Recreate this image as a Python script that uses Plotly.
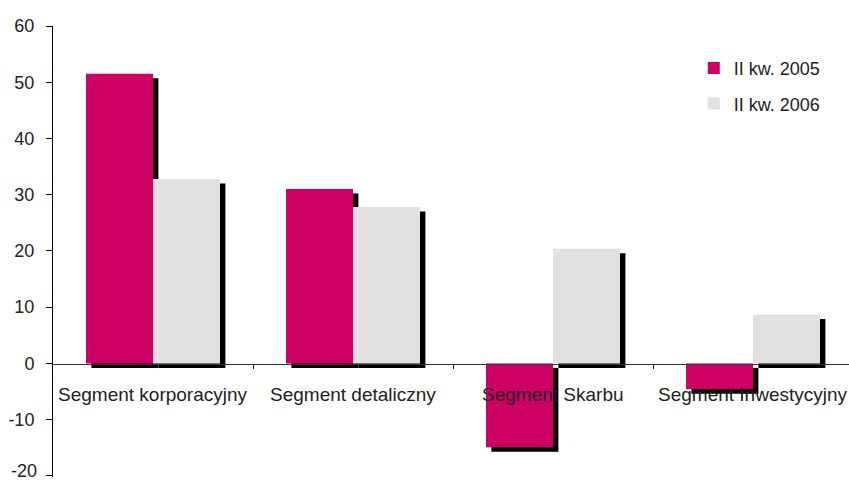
import plotly.graph_objects as go

categories = ["Segment korporacyjny", "Segment detaliczny", "Segment Skarbu", "Segment Inwestycyjny"]
series_names = ["II kw. 2005", "II kw. 2006"]
values_2005 = [51.5, 31.0, -14.9, -4.6]
values_2006 = [32.8, 27.8, 20.4, 8.7]
y_ticks = [-20, -10, 0, 10, 20, 30, 40, 50, 60]
y_tick_text = ["-20", "-10", "0", "10", "20", "30", "40", "50", "60"]

colors = ["#CE0063", "#E1E1E1"]
bar_w = 0.335
offsets = [-bar_w / 2, bar_w / 2]
shadow_dx = 0.027
shadow_dy = 0.8

idx = list(range(len(categories)))
fig = go.Figure()

series = [values_2005, values_2006]
# shadows first
for s, vals in enumerate(series):
    xs = [i + offsets[s] + shadow_dx for i in idx]
    fig.add_trace(go.Bar(
        x=xs, y=vals, base=[-shadow_dy] * len(vals), width=bar_w,
        marker=dict(color="black", line=dict(width=0)),
        showlegend=False, hoverinfo="skip",
    ))
for s, vals in enumerate(series):
    xs = [i + offsets[s] for i in idx]
    fig.add_trace(go.Bar(
        x=xs, y=vals, width=bar_w, name=series_names[s],
        marker=dict(color=colors[s], line=dict(width=0)),
        legendgroup=f"g{s}",
    ))

for i, c in enumerate(categories):
    fig.add_annotation(x=i, y=0, text=c, showarrow=False, yshift=-31,
                       xanchor="center", yanchor="middle",
                       font=dict(size=19, color="#222222", family="Liberation Sans"))

# bottom tick label (plotly hides it because it overflows the page edge)
fig.add_annotation(x=0, xref="paper", y=y_ticks[0], yref="y", text=y_tick_text[0],
                   showarrow=False, xanchor="right", yanchor="middle", xshift=-14, yshift=5,
                   font=dict(size=18, color="#222222", family="Liberation Sans"))

fig.update_layout(
    width=849, height=482,
    margin=dict(l=53, r=0, t=26, b=5),
    paper_bgcolor="white", plot_bgcolor="white",
    barmode="overlay",
    font=dict(family="Liberation Sans", size=18, color="#222222"),
    showlegend=True,
    legend=dict(x=0.805, y=0.947, xanchor="left", yanchor="top",
                bgcolor="rgba(0,0,0,0)", traceorder="grouped", tracegroupgap=9,
                font=dict(size=18, color="#222222")),
    xaxis=dict(range=[-0.5, 3.48], anchor="free", position=0.25,
               showline=True, linecolor="#333333", linewidth=1,
               tickmode="array", tickvals=[0.5, 1.5, 2.5], showticklabels=False,
               ticks="outside", ticklen=4, tickcolor="#333333",
               showgrid=False, zeroline=False),
    yaxis=dict(range=[-20.2, 60], tickmode="array", tickvals=y_ticks, ticktext=y_tick_text,
               showline=True, linecolor="black", linewidth=1,
               ticks="outside", ticklen=6, tickcolor="black",
               showgrid=False, zeroline=False, ticklabelstandoff=8),
)

fig.write_html("out.html")
